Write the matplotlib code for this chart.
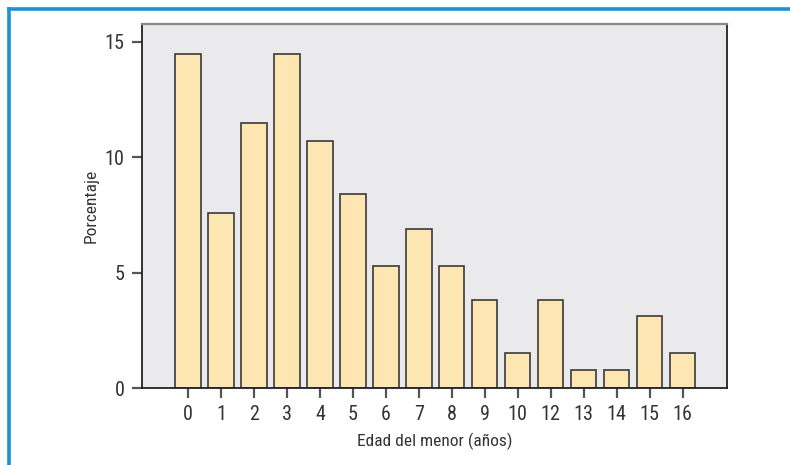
import matplotlib
matplotlib.use("Agg")
import matplotlib.pyplot as plt
from matplotlib import font_manager
from matplotlib.lines import Line2D

# Age of the youngest child and share of cases (%)
edades = ["0", "1", "2", "3", "4", "5", "6", "7", "8", "9", "10", "12", "13", "14", "15", "16"]
porcentaje = [14.5, 7.6, 11.5, 14.5, 10.7, 8.4, 5.3, 6.9, 5.3, 3.8, 1.5, 3.8, 0.8, 0.8, 3.1, 1.5]
yticks = [0, 5, 10, 15]

names = {f.name for f in font_manager.fontManager.ttflist}
family = next((f for f in ["Liberation Sans Narrow", "Roboto Condensed", "Open Sans Condensed",
                           "DejaVu Sans Condensed", "Liberation Sans"] if f in names), "DejaVu Sans")
plt.rcParams["font.family"] = [family, "DejaVu Sans"]

fig = plt.figure(figsize=(7.9, 4.65), dpi=100)
ax = fig.add_axes([142 / 790, 1 - 388 / 465, (727 - 142) / 790, (388 - 24) / 465])
ax.set_facecolor("#EAEAEC")

x = list(range(len(edades)))
ax.bar(x, porcentaje, width=0.77, color="#FDE6B1", edgecolor="#3a3a3a", linewidth=1.2, zorder=2)

ax.set_xlim(-1.4, 16.35)
ax.set_ylim(0, 15.78)
ax.set_xticks(x)
ax.set_xticklabels(edades)
ax.set_yticks(yticks)
ax.set_yticklabels([str(t) for t in yticks])

ax.tick_params(axis="both", direction="out", length=7.5, width=1.6, color="#555555",
               labelsize=14.5, labelcolor="#333333", pad=5)

for side in ["left", "bottom", "right"]:
    ax.spines[side].set_color("#222222")
    ax.spines[side].set_linewidth(1.3)
ax.spines["top"].set_color("#888888")
ax.spines["top"].set_linewidth(1.6)

ax.set_xlabel("Edad del menor (años)", fontsize=12.5, color="#333333", labelpad=6)
ax.set_ylabel("Porcentaje", fontsize=12.5, color="#333333", labelpad=4)

# blue frame around the figure
blue = "#1A93D2"
fig.add_artist(Line2D([9 / 790, 9 / 790], [0, 1 - 9 / 465], transform=fig.transFigure,
                      color=blue, linewidth=2.6))
fig.add_artist(Line2D([9 / 790, 1], [1 - 9 / 465, 1 - 9 / 465], transform=fig.transFigure,
                      color=blue, linewidth=2.6))

fig.savefig("out.png", dpi=100)
